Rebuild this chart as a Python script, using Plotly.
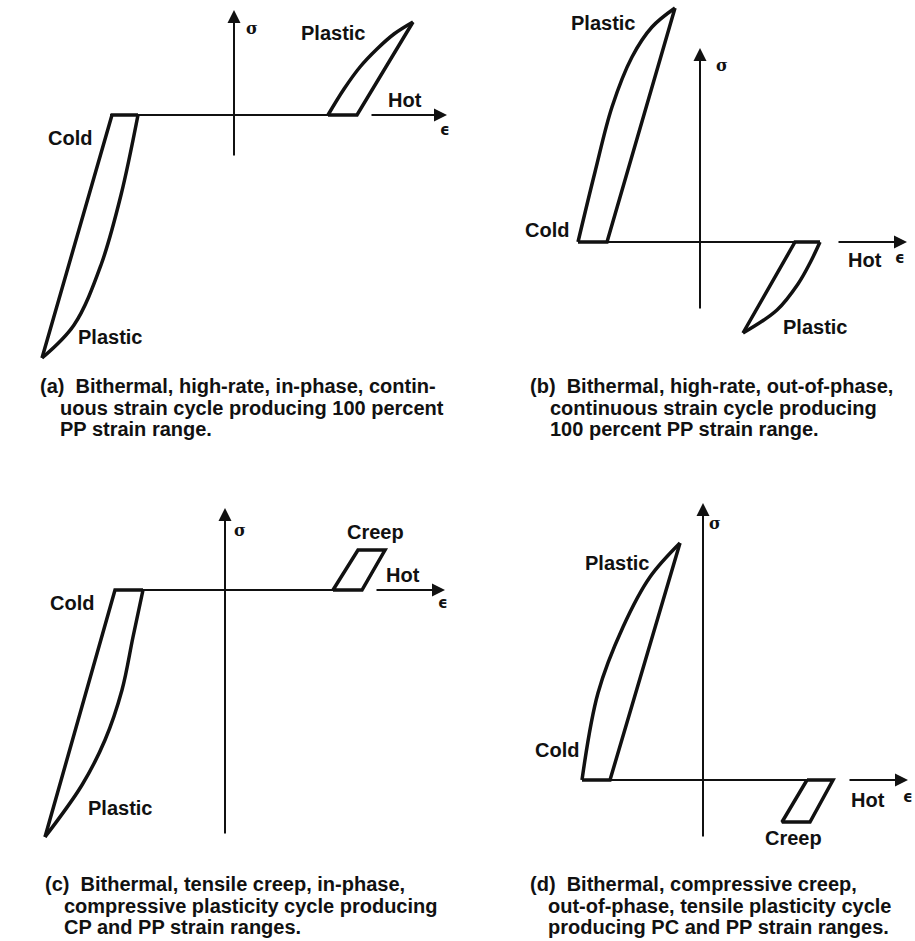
import plotly.graph_objects as go

# ---------------- data (strain eps, stress sigma; arbitrary schematic units) -------------
# Panel (a): bithermal in-phase PP cycle
a_cold_edge_eps = [-96, -122, -192]
a_cold_edge_sig = [0, 0, -243]
a_cold_curve_eps = [-96, -113, -133, -160, -192]
a_cold_curve_sig = [0, -80, -150, -210, -243]
a_hot_edge_eps = [179, 123, 94]
a_hot_edge_sig = [93, 0, 0]
a_hot_curve_eps = [94, 110, 126, 143, 160, 179]
a_hot_curve_sig = [0, 26, 48, 66, 81, 93]
a_path_eps = [-124, 123]
a_path_sig = [0, 0]

# Panel (b): bithermal out-of-phase PP cycle
b_cold_edge_eps = [-25, -93, -122]
b_cold_edge_sig = [234, 0, 0]
b_cold_curve_eps = [-122, -105, -88, -68, -48, -25]
b_cold_curve_sig = [0, 70, 135, 185, 215, 234]
b_hot_edge_eps = [120, 95, 43]
b_hot_edge_sig = [0, 0, -91]
b_hot_curve_eps = [120, 110, 98, 77, 43]
b_hot_curve_sig = [0, -21, -42, -68, -91]
b_path_eps = [-122, 120]
b_path_sig = [0, 0]

# Panel (c): tensile creep, compressive plasticity (CP + PP)
c_cold_edge_eps = [-82, -110, -180]
c_cold_edge_sig = [0, 0, -247]
c_cold_curve_eps = [-82, -92, -103, -120, -143, -180]
c_cold_curve_sig = [0, -47, -100, -150, -195, -247]
c_creep_eps = [108, 133, 160, 137, 108]
c_creep_sig = [0, 40, 40, 0, 0]
c_path_eps = [-110, 137]
c_path_sig = [0, 0]

# Panel (d): compressive creep, tensile plasticity (PC + PP)
d_cold_edge_eps = [-23, -93, -121]
d_cold_edge_sig = [237, 0, 0]
d_cold_curve_eps = [-121, -105, -80, -53, -23]
d_cold_curve_sig = [0, 87, 153, 203, 237]
d_creep_eps = [104, 79, 107, 130, 104]
d_creep_sig = [0, -42, -42, 0, 0]
d_path_eps = [-121, 130]
d_path_sig = [0, 0]

captions = {
    "a": ["(a)  Bithermal, high-rate, in-phase, contin-",
          "uous strain cycle producing 100 percent",
          "PP strain range."],
    "b": ["(b)  Bithermal, high-rate, out-of-phase,",
          "continuous strain cycle producing",
          "100 percent PP strain range."],
    "c": ["(c)  Bithermal, tensile creep, in-phase,",
          "compressive plasticity cycle producing",
          "CP and PP strain ranges."],
    "d": ["(d)  Bithermal, compressive creep,",
          "out-of-phase, tensile plasticity cycle",
          "producing PC and PP strain ranges."],
}

# ---------------- layout helpers -------------
W, H = 915, 941
FONT = "Liberation Sans, Arial, Helvetica, sans-serif"
BLACK = "#111111"
LABEL_SIZE = 20
CAPTION_SIZE = 20

fig = go.Figure()

panels = {
    # name: (axis suffix, origin px x, origin px y, x domain, y domain)
    "a": ("", 234, 115, [0, 0.5], [0.5, 1]),
    "b": ("2", 700, 242, [0.5, 1], [0.5, 1]),
    "c": ("3", 225, 590, [0, 0.5], [0, 0.5]),
    "d": ("4", 703, 780, [0.5, 1], [0, 0.5]),
}

for name, (sid, ox, oy, xd, yd) in panels.items():
    px0, px1 = xd[0] * W, xd[1] * W
    py_top, py_bot = (1 - yd[1]) * H, (1 - yd[0]) * H
    xr = [px0 - ox, px1 - ox]
    yr = [oy - py_bot, oy - py_top]
    fig.update_layout(**{
        f"xaxis{sid}": dict(domain=xd, range=xr, visible=False, anchor=f"y{sid}", fixedrange=True),
        f"yaxis{sid}": dict(domain=yd, range=yr, visible=False, anchor=f"x{sid}", fixedrange=True),
    })


def line(sid, xs, ys, width=3.5, shape="linear"):
    fig.add_trace(go.Scatter(
        x=xs, y=ys, mode="lines", xaxis=f"x{sid}", yaxis=f"y{sid}",
        line=dict(color=BLACK, width=width, shape=shape, smoothing=1.0),
        hoverinfo="skip", showlegend=False))


def arrow(sid, x0, y0, x1, y1):
    fig.add_annotation(x=x1, y=y1, ax=x0, ay=y0, xref=f"x{sid}", yref=f"y{sid}",
                       axref=f"x{sid}", ayref=f"y{sid}", text="", showarrow=True,
                       arrowhead=2, arrowsize=1.3, arrowwidth=2, arrowcolor=BLACK)


def label(sid, x, y, text, size=LABEL_SIZE, family=FONT):
    fig.add_annotation(x=x, y=y, xref=f"x{sid}", yref=f"y{sid}", text=f"<b>{text}</b>",
                       showarrow=False, font=dict(family=family, size=size, color=BLACK))


# Panel (a)
line("", a_path_eps, a_path_sig, width=2)
line("", a_cold_edge_eps, a_cold_edge_sig)
line("", a_cold_curve_eps, a_cold_curve_sig, shape="spline")
line("", a_hot_edge_eps, a_hot_edge_sig)
line("", a_hot_curve_eps, a_hot_curve_sig, shape="spline")
arrow("", 0, -42, 0, 105)
arrow("", 136, 0, 213, 0)
label("", 18, 87, "σ", 16, "DejaVu Serif")
label("", 99, 82, "Plastic")
label("", 171, 15, "Hot")
label("", 211, -15, "ϵ", 15, "DejaVu Sans")
label("", -164, -23, "Cold")
label("", -124, -222, "Plastic")

# Panel (b)
line("2", b_path_eps, b_path_sig, width=2)
line("2", b_cold_edge_eps, b_cold_edge_sig)
line("2", b_cold_curve_eps, b_cold_curve_sig, shape="spline")
line("2", b_hot_edge_eps, b_hot_edge_sig)
line("2", b_hot_curve_eps, b_hot_curve_sig, shape="spline")
arrow("2", 0, -68, 0, 194)
arrow("2", 137, 0, 207, 0)
label("2", 22, 177, "σ", 16, "DejaVu Serif")
label("2", -97, 219, "Plastic")
label("2", -153, 12, "Cold")
label("2", 165, -18, "Hot")
label("2", 200, -16, "ϵ", 15, "DejaVu Sans")
label("2", 115, -85, "Plastic")

# Panel (c)
line("3", c_path_eps, c_path_sig, width=2)
line("3", c_cold_edge_eps, c_cold_edge_sig)
line("3", c_cold_curve_eps, c_cold_curve_sig, shape="spline")
line("3", c_creep_eps, c_creep_sig)
arrow("3", 0, -245, 0, 82)
arrow("3", 150, 0, 220, 0)
label("3", 15, 60, "σ", 16, "DejaVu Serif")
label("3", 150, 58, "Creep")
label("3", 178, 15, "Hot")
label("3", 218, -13, "ϵ", 15, "DejaVu Sans")
label("3", -153, -13, "Cold")
label("3", -105, -218, "Plastic")

# Panel (d)
line("4", d_path_eps, d_path_sig, width=2)
line("4", d_cold_edge_eps, d_cold_edge_sig)
line("4", d_cold_curve_eps, d_cold_curve_sig, shape="spline")
line("4", d_creep_eps, d_creep_sig)
arrow("4", 0, -58, 0, 277)
arrow("4", 145, 0, 205, 0)
label("4", 12, 257, "σ", 16, "DejaVu Serif")
label("4", -86, 217, "Plastic")
label("4", -146, 30, "Cold")
label("4", 165, -20, "Hot")
label("4", 205, -17, "ϵ", 15, "DejaVu Sans")
label("4", 90, -58, "Creep")

# Captions (page pixel positions: first-line x, indent x, first-line y)
cap_pos = {"a": (38, 58, 386), "b": (528, 548, 386), "c": (43, 62, 884), "d": (528, 546, 884)}
for key, lines in captions.items():
    x1, x2, y0 = cap_pos[key]
    for i, txt in enumerate(lines):
        fig.add_annotation(x=(x1 if i == 0 else x2) / W, y=1 - (y0 + 21.5 * i) / H,
                           xref="paper", yref="paper", xanchor="left", yanchor="middle",
                           text=f"<b>{txt}</b>", showarrow=False,
                           font=dict(family=FONT, size=CAPTION_SIZE, color=BLACK))

fig.update_layout(width=W, height=H, margin=dict(l=0, r=0, t=0, b=0),
                  paper_bgcolor="white", plot_bgcolor="white", showlegend=False)

fig.write_html("out.html", config={"displayModeBar": False},
               post_script="document.body.style.margin='0';")
